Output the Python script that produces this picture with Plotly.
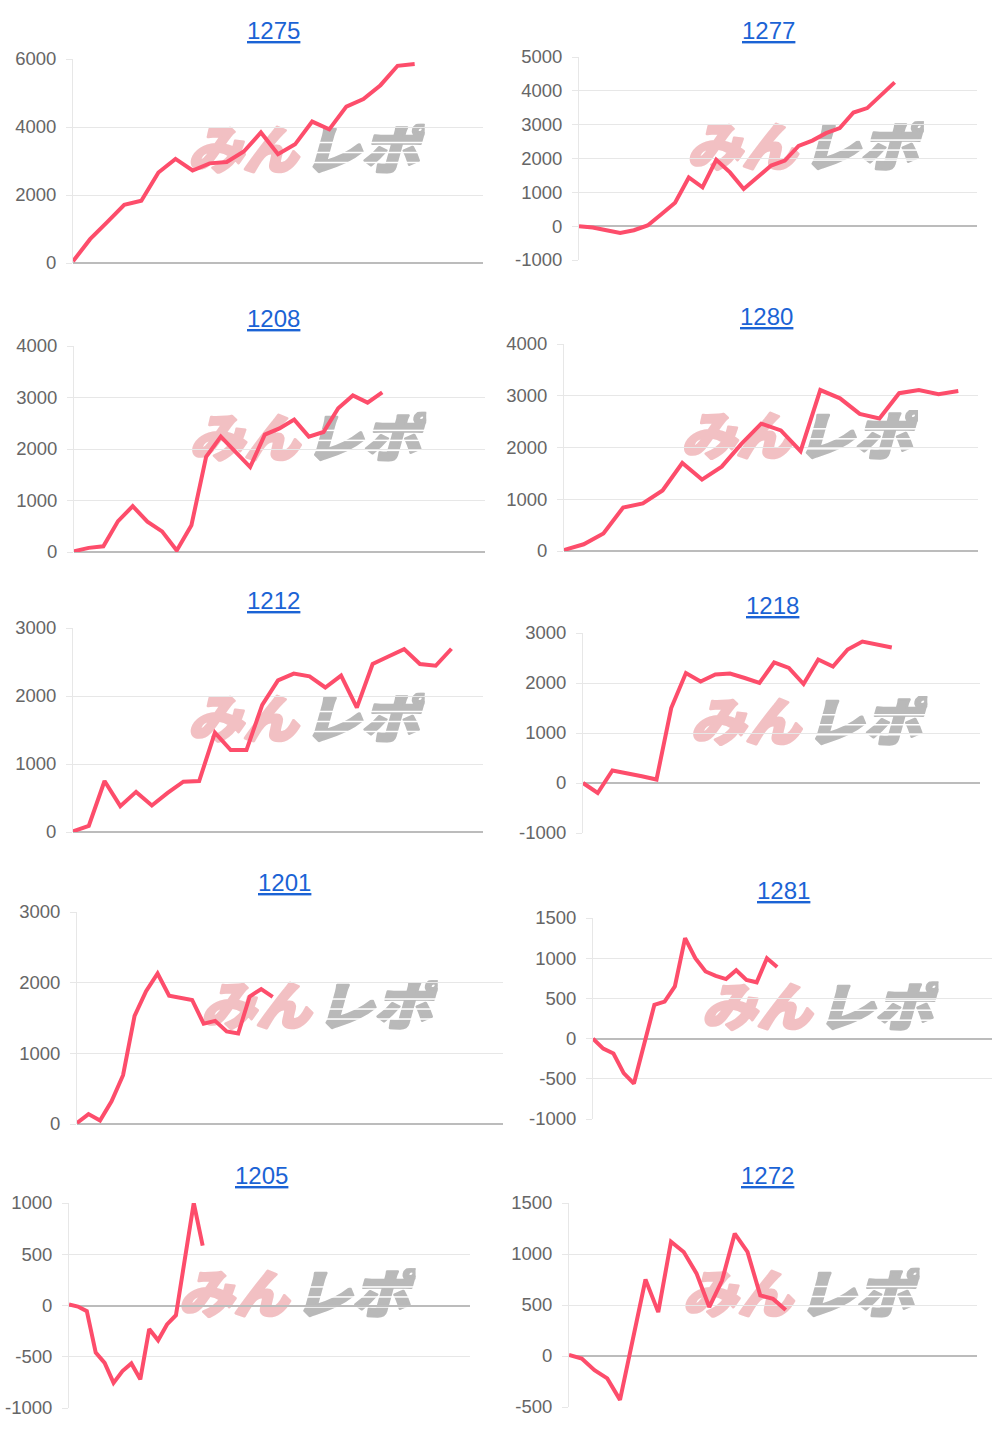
import base64
import plotly.graph_objects as go

# ---------------- data ----------------
names = ["1275", "1277", "1208", "1280", "1212", "1218", "1201", "1281", "1205", "1272"]

s1275 = [50, 700, 1200, 1710, 1830, 2660, 3060, 2720, 2930, 2970, 3280, 3840, 3200,
         3490, 4160, 3930, 4600, 4820, 5230, 5800, 5850]
s1277 = [0, -40, -120, -200, -120, 20, 350, 690, 1440, 1150, 1960, 1590, 1100, 1440,
         1790, 1940, 2370, 2530, 2750, 2900, 3360, 3490, 3870, 4250]
s1208 = [15, 80, 110, 600, 890, 590, 400, 30, 520, 1850, 2240, 1950, 1650, 2280, 2400,
         2570, 2240, 2330, 2790, 3040, 2900, 3100]
s1280 = [20, 130, 340, 840, 920, 1170, 1700, 1380, 1630, 2070, 2460, 2330, 1930, 3110,
         2950, 2650, 2560, 3050, 3110, 3030, 3090]
s1212 = [10, 90, 750, 380, 590, 390, 575, 740, 750, 1460, 1205, 1205, 1870, 2230, 2330,
         2290, 2125, 2300, 1830, 2470, 2580, 2690, 2470, 2445, 2695]
s1218 = [0, -200, 250, 200, 135, 70, 1500, 2200, 2030, 2170, 2190, 2100, 2000, 2410,
         2300, 1980, 2470, 2330, 2670, 2830, 2780, 2710]
s1201 = [15, 140, 50, 320, 690, 1530, 1880, 2130, 1815, 1780, 1755, 1420, 1460, 1310,
         1280, 1805, 1910, 1800]
s1281 = [0, -125, -185, -430, -560, -60, 420, 460, 650, 1250, 1000, 835, 780, 740, 850,
         730, 700, 1000, 890]
s1205 = [10, -10, -55, -460, -560, -755, -640, -565, -720, -230, -340, -185, -95, 450,
         1000, 585]
s1272 = [10, -25, -140, -220, -430, 165, 750, 430, 1120, 1020, 810, 480, 740, 1200, 1020,
         595, 560, 450]

series = [s1275, s1277, s1208, s1280, s1212, s1218, s1201, s1281, s1205, s1272]
n_slots = [25, 30, 29, 22, 27, 28, 38, 40, 46, 33]
y_ranges = [[0, 6000], [-1000, 5000], [0, 4000], [0, 4000], [0, 3000],
            [-1000, 3000], [0, 3000], [-1000, 1500], [-1000, 1000], [-500, 1500]]
y_steps = [2000, 1000, 1000, 1000, 1000, 1000, 1000, 500, 500, 500]

# ---------------- layout geometry (pixels) ----------------
W, H = 1000, 1431
boxes = [  # x0, x1, ytop, ybottom
    (73, 483, 59, 263), (579, 977, 57, 260),
    (74, 485, 346, 552), (564, 978, 344, 551),
    (73, 483, 628, 832), (583, 980, 633, 833),
    (77, 503, 912, 1124), (593, 992, 918, 1119),
    (69, 470, 1203, 1408), (569, 977, 1203, 1407),
]
title_pos = [(273, 30), (768, 30), (273, 318), (766, 316), (273, 600),
             (772, 605), (284, 882), (783, 890), (261, 1175), (767, 1175)]

LINE = "#fd4d6b"
GRID = "#e7e7e7"
ZERO = "#bcbcbc"
TICKFONT = dict(family="Liberation Sans, Arial, sans-serif", size=18.5, color="#666666")

# watermark logo (drawn behind the lines)
WM_W, WM_H = 240, 50
wm_svg = (
    '<svg xmlns="http://www.w3.org/2000/svg" width="%d" height="%d" viewBox="0 0 %d %d">'
    '<g font-family="Noto Sans CJK JP" font-weight="900" font-style="italic" font-size="52"'
    ' stroke-width="2.5" stroke-linejoin="round">'
    '<text x="3" y="45" fill="#f2c0c3" stroke="#f2c0c3" textLength="110" lengthAdjust="spacingAndGlyphs">みん</text>'
    '<text x="118" y="45" fill="#b9b9b9" stroke="#b9b9b9" textLength="116" lengthAdjust="spacingAndGlyphs">レポ</text>'
    '</g>'
    '<rect x="118" y="18" width="122" height="1.5" fill="#ffffff"/>'
    '<rect x="118" y="28" width="122" height="1.5" fill="#ffffff"/>'
    '<rect x="118" y="38" width="122" height="1.5" fill="#ffffff"/>'
    '</svg>'
) % (WM_W, WM_H, WM_W, WM_H)
wm_src = "data:image/svg+xml;base64," + base64.b64encode(wm_svg.encode("utf-8")).decode("ascii")

fig = go.Figure()
layout = dict(
    template="none",
    width=W, height=H, margin=dict(l=0, r=0, t=0, b=0, autoexpand=False),
    paper_bgcolor="white", plot_bgcolor="white", showlegend=False,
)
annotations = []
images = []

for i, vals in enumerate(series):
    ax = "" if i == 0 else str(i + 1)
    x0, x1, yt, yb = boxes[i]
    fig.add_trace(go.Scatter(
        x=list(range(len(vals))), y=vals, mode="lines",
        line=dict(color=LINE, width=4), xaxis="x" + ax, yaxis="y" + ax,
        hoverinfo="skip",
    ))
    lo, hi = y_ranges[i]
    tv = list(range(lo, hi + 1, y_steps[i]))
    layout["xaxis" + ax] = dict(
        domain=[x0 / W, x1 / W], range=[0, n_slots[i] - 1], anchor="y" + ax,
        showgrid=False, zeroline=False, showticklabels=False, ticks="",
        showline=False, fixedrange=True, automargin=False,
    )
    layout["yaxis" + ax] = dict(
        domain=[1 - yb / H, 1 - yt / H], range=[lo, hi], anchor="x" + ax,
        tickvals=tv, ticktext=[str(v) for v in tv],
        showgrid=True, gridcolor=GRID, gridwidth=1,
        zeroline=True, zerolinecolor=ZERO, zerolinewidth=1.5,
        showline=True, linecolor=GRID, linewidth=1,
        ticks="outside", ticklen=6, tickcolor=GRID, ticklabelstandoff=6,
        tickfont=TICKFONT, fixedrange=True, automargin=False,
    )
    # title (link style)
    cx, cy = title_pos[i]
    annotations.append(dict(
        x=cx / W, y=1 - cy / H, xref="paper", yref="paper",
        xanchor="center", yanchor="middle", showarrow=False,
        text="<span style='text-decoration:underline'>%s</span>" % names[i],
        font=dict(family="Liberation Sans, Arial, sans-serif", size=24, color="#1b63d5"),
    ))
    # watermark image
    images.append(dict(
        source=wm_src, xref="x" + ax + " domain", yref="y" + ax + " domain",
        x=0.565, y=0.56, xanchor="center", yanchor="middle",
        sizex=WM_W / (x1 - x0), sizey=WM_H / (yb - yt),
        sizing="stretch", layer="below",
    ))

layout["annotations"] = annotations
layout["images"] = images
fig.update_layout(**layout)
fig.write_html(
    "out.html",
    config={"displayModeBar": False},
    post_script="document.body.style.margin='0';document.body.style.overflow='hidden';",
)
